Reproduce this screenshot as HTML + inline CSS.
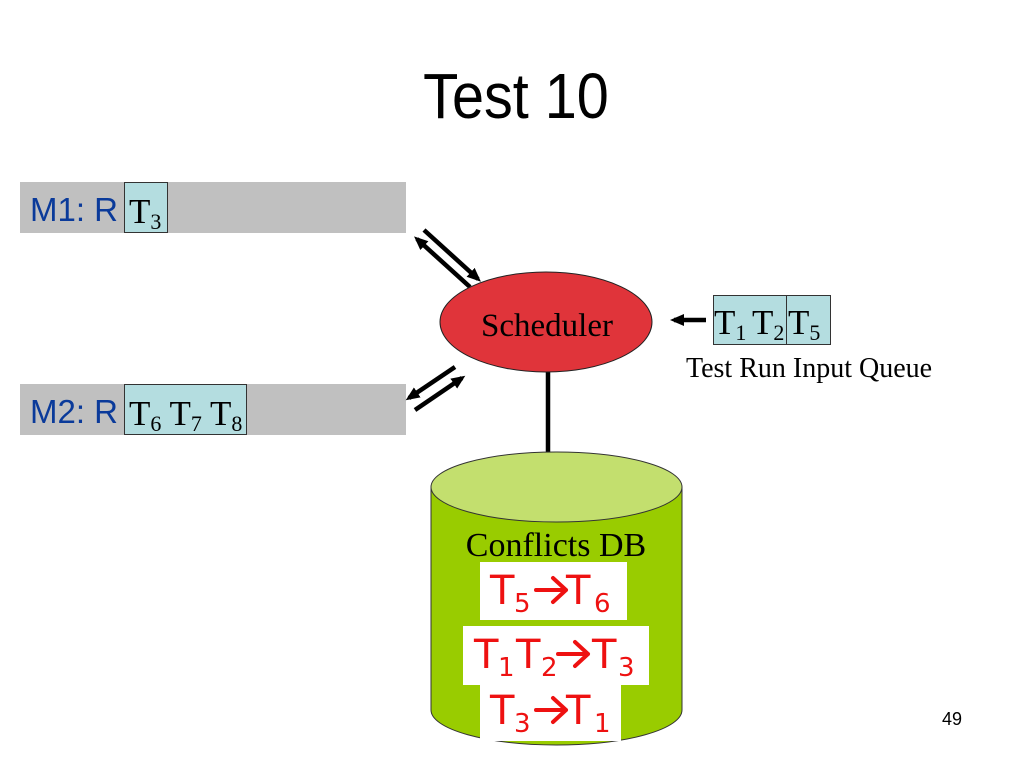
<!DOCTYPE html>
<html><head><meta charset="utf-8"><style>
html,body{margin:0;padding:0;background:#fff;}
svg{display:block;}
</style></head><body>
<svg width="1024" height="768" viewBox="0 0 1024 768" xmlns="http://www.w3.org/2000/svg">
<defs>
<marker id="ah" markerWidth="14" markerHeight="12" refX="10" refY="6" orient="auto" markerUnits="userSpaceOnUse">
<path d="M0,0 L14,6 L0,12 z" fill="#000"/>
</marker>
</defs>
<text x="516" y="118" font-family="Liberation Sans, sans-serif" font-size="64" text-anchor="middle" transform="translate(516 0) scale(0.9 1) translate(-516 0)">Test 10</text>

<!-- M1 -->
<rect x="20" y="182" width="386" height="51" fill="#c0c0c0"/>
<text x="30" y="221" font-family="Liberation Sans, sans-serif" font-size="33" fill="#0a3a9a">M1: R</text>
<rect x="124.5" y="182.5" width="43" height="50" fill="#b4dde0" stroke="#333" stroke-width="1"/>
<text x="129" y="223" font-family="Liberation Serif, serif" font-size="35">T<tspan font-size="22" dy="6">3</tspan></text>

<!-- M2 -->
<rect x="20" y="384" width="386" height="51" fill="#c0c0c0"/>
<text x="30" y="423" font-family="Liberation Sans, sans-serif" font-size="33" fill="#0a3a9a">M2: R</text>
<rect x="124.5" y="384.5" width="122" height="50" fill="#b4dde0" stroke="#333" stroke-width="1"/>
<text x="129" y="425" font-family="Liberation Serif, serif" font-size="35">T<tspan font-size="22" dy="6">6</tspan><tspan dy="-6"> T</tspan><tspan font-size="22" dy="6">7</tspan><tspan dy="-6"> T</tspan><tspan font-size="22" dy="6">8</tspan></text>

<!-- arrows -->
<g stroke="#000" stroke-width="4.5">
<line x1="424" y1="230" x2="478" y2="279" marker-end="url(#ah)"/>
<line x1="470" y1="287" x2="417" y2="239" marker-end="url(#ah)"/>
<line x1="455" y1="367" x2="409" y2="398" marker-end="url(#ah)"/>
<line x1="415" y1="410" x2="462" y2="378" marker-end="url(#ah)"/>
<line x1="706" y1="320" x2="674" y2="320" marker-end="url(#ah)"/>
<line x1="548" y1="372" x2="548" y2="452"/>
</g>

<!-- scheduler -->
<ellipse cx="546" cy="322" rx="106" ry="50" fill="#e0343a" stroke="#222" stroke-width="1"/>
<text x="547" y="336" font-family="Liberation Serif, serif" font-size="33" text-anchor="middle">Scheduler</text>

<!-- queue -->
<rect x="713.5" y="295.5" width="117" height="49" fill="#b4dde0" stroke="#333" stroke-width="1"/>
<line x1="786.5" y1="296" x2="786.5" y2="344" stroke="#333" stroke-width="1"/>
<text x="714" y="334" font-family="Liberation Serif, serif" font-size="35">T<tspan font-size="22" dy="6">1</tspan><tspan dy="-6" x="752">T</tspan><tspan font-size="22" dy="6">2</tspan></text>
<text x="788" y="334" font-family="Liberation Serif, serif" font-size="35">T<tspan font-size="22" dy="6">5</tspan></text>
<text x="809" y="377" font-family="Liberation Serif, serif" font-size="28" text-anchor="middle">Test Run Input Queue</text>

<!-- cylinder -->
<path d="M431,487 L431,710 A125.5,35 0 0 0 682,710 L682,487 Z" fill="#99cc00" stroke="#333" stroke-width="1"/>
<ellipse cx="556.5" cy="487" rx="125.5" ry="35" fill="#c3df6e" stroke="#333" stroke-width="1"/>
<text x="556" y="556" font-family="Liberation Serif, serif" font-size="34" text-anchor="middle">Conflicts DB</text>
<rect x="480" y="562" width="147" height="58" fill="#fff"/>
<rect x="463" y="626" width="186" height="59" fill="#fff"/>
<rect x="480" y="685" width="141" height="56" fill="#fff"/>
<g font-family="DejaVu Sans, sans-serif" fill="#ee1111">
<text x="490" y="604" font-size="40">T</text><text x="514" y="612" font-size="26">5</text>
<text x="566" y="604" font-size="40">T</text><text x="594" y="612" font-size="26">6</text>
<text x="474" y="668" font-size="40">T</text><text x="498" y="676" font-size="26">1</text>
<text x="516" y="668" font-size="40">T</text><text x="541" y="676" font-size="26">2</text>
<text x="592" y="668" font-size="40">T</text><text x="618" y="676" font-size="26">3</text>
<text x="490" y="724" font-size="40">T</text><text x="514" y="732" font-size="26">3</text>
<text x="566" y="724" font-size="40">T</text><text x="594" y="732" font-size="26">1</text>
</g>
<g stroke="#ee1111" stroke-width="4" fill="none" stroke-linecap="round" stroke-linejoin="round">
<path d="M536,590 L566,590 M553,578 L566,590 L553,602"/>
<path d="M558,654 L588,654 M575,642 L588,654 L575,666"/>
<path d="M536,710 L566,710 M553,698 L566,710 L553,722"/>
</g>

<text x="952" y="725" font-family="Liberation Sans, sans-serif" font-size="18" text-anchor="middle">49</text>
</svg>
</body></html>
